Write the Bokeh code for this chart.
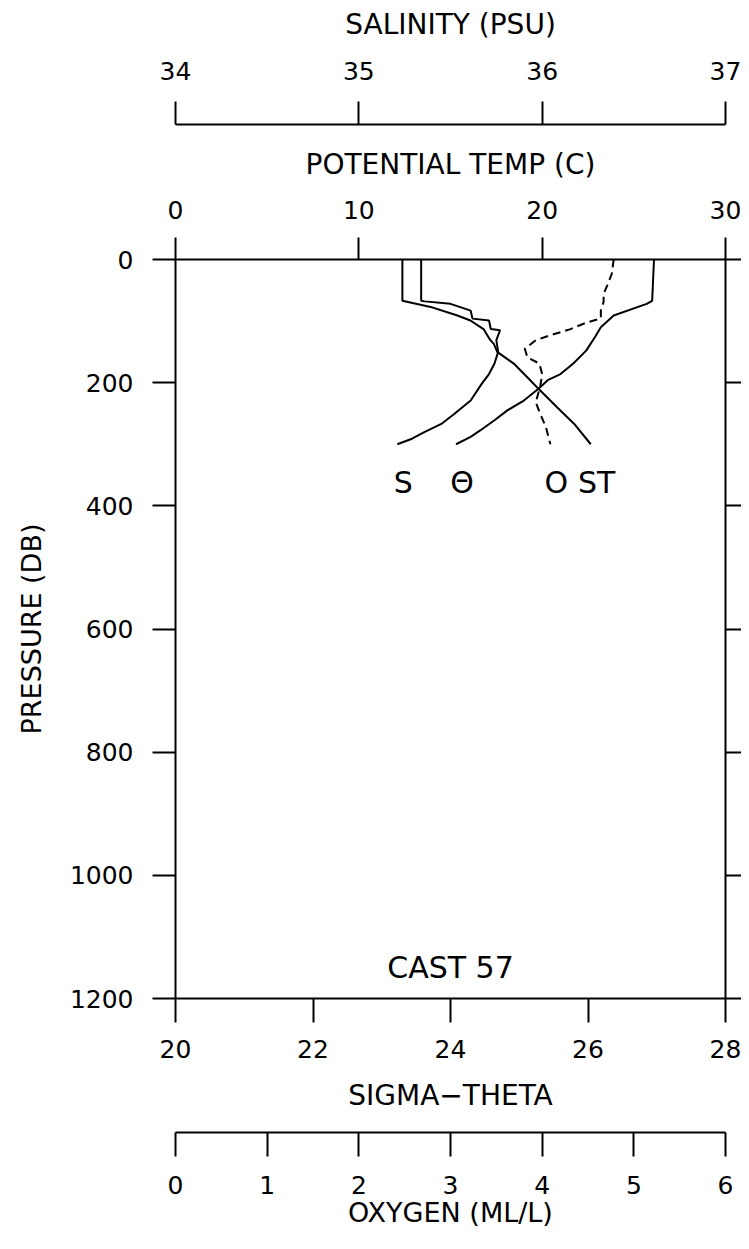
from bokeh.plotting import figure
from bokeh.models import Range1d, LinearAxis, FixedTicker, Label
from bokeh.embed import file_html
from bokeh.resources import INLINE
from bokeh.core.properties import value

# ---------------- data ----------------
pressure_ticks = [0, 200, 400, 600, 800, 1000, 1200]
temp_ticks = [0, 10, 20, 30]
sal_ticks = [34, 35, 36, 37]
sig_ticks = [20, 22, 24, 26, 28]
oxy_ticks = [0, 1, 2, 3, 4, 5, 6]

temp_p = [0, 67, 72, 91, 110, 125, 148, 169, 186, 196, 210, 229, 245, 261, 278, 288, 300]
temp_v = [26.1, 26.0, 25.7, 23.9, 23.2, 22.9, 22.4, 21.7, 21.0, 20.3, 19.8, 19.0, 18.1, 17.4, 16.6, 16.1, 15.3]

sal_p = [0, 67, 68, 72, 83, 96, 99, 113, 115, 131, 150, 169, 186, 202, 229, 251, 267, 280, 291, 300]
sal_v = [35.34, 35.34, 35.36, 35.50, 35.61, 35.62, 35.71, 35.72, 35.77, 35.75, 35.76, 35.74,
         35.71, 35.67, 35.61, 35.52, 35.45, 35.36, 35.29, 35.21]

sig_p = [0, 67, 77, 91, 99, 113, 131, 137, 150, 169, 196, 210, 240, 267, 300]
sig_v = [23.30, 23.30, 23.71, 24.10, 24.29, 24.48, 24.58, 24.63, 24.68, 24.92, 25.16, 25.28,
         25.55, 25.80, 26.04]

oxy_p = [0, 23, 42, 56, 69, 83, 96, 102, 113, 123, 131, 145, 159, 169, 186, 205, 232, 251, 272, 300]
oxy_v = [4.78, 4.76, 4.71, 4.67, 4.67, 4.64, 4.64, 4.49, 4.31, 4.09, 3.93, 3.81, 3.84, 3.97,
         4.00, 3.98, 3.93, 3.98, 4.04, 4.09]

curve_labels = ["S", "\u0398", "O", "ST"]
cast_label = "CAST 57"

# ---------------- layout constants (pixels) ----------------
W, H = 741, 1233
X_L, X_R = 175, 725                  # pixel columns of the axis ends
Y_TOP_PX, Y_BOT_PX = 259, 998        # pixel rows of pressure 0 and 1200
SAL_AXIS_PX, OXY_AXIS_PX = 124, 1132


def full_range(r0, r1):
    per_px = (r1 - r0) / (X_R - X_L)
    return Range1d(r0 - X_L * per_px, r1 + (W - X_R) * per_px)


ppd = (Y_BOT_PX - Y_TOP_PX) / 1200.0
y_top = -Y_TOP_PX / ppd
y_bot = 1200 + (H - Y_BOT_PX) / ppd
sal_loc = y_top + SAL_AXIS_PX / ppd
oxy_loc = y_top + OXY_AXIS_PX / ppd

FONT = "DejaVu Sans"

p = figure(width=W, height=H, x_range=full_range(0, 30), y_range=Range1d(y_bot, y_top),
           output_backend="svg", toolbar_location=None,
           x_axis_location=None, y_axis_location=None,
           min_border_left=0, min_border_right=0, min_border_top=0, min_border_bottom=0)
p.outline_line_color = None
p.background_fill_color = "white"
p.border_fill_color = "white"
for g in p.grid:
    g.visible = False

p.extra_x_ranges = {"sal": full_range(34, 37), "sig": full_range(20, 28), "oxy": full_range(0, 6)}


def style(ax, ticks, out, standoff, title_standoff, lab_size="25px", title_size="28px"):
    ax.ticker = FixedTicker(ticks=ticks, minor_ticks=[])
    ax.major_tick_out = out
    ax.major_tick_in = 0
    ax.minor_tick_out = 0
    ax.minor_tick_in = 0
    ax.axis_line_width = 2
    ax.axis_line_color = "black"
    ax.major_tick_line_width = 2
    ax.major_tick_line_color = "black"
    ax.major_label_text_font = FONT
    ax.major_label_text_font_size = lab_size
    ax.major_label_text_color = "black"
    ax.major_label_standoff = standoff
    ax.axis_label_text_font = FONT
    ax.axis_label_text_font_size = title_size
    ax.axis_label_text_font_style = "normal"
    ax.axis_label_text_color = "black"
    ax.axis_label_standoff = title_standoff


# left pressure axis
left = LinearAxis(bounds=(0, 1200), fixed_location=0, axis_label="PRESSURE (DB)")
style(left, pressure_ticks, 23, 19, 20, title_size="27px")
p.add_layout(left, "left")

# right axis (ticks only)
right = LinearAxis(bounds=(0, 1200), fixed_location=30)
style(right, pressure_ticks, 24, 0, 0)
right.major_label_overrides = {t: "" for t in pressure_ticks}
p.add_layout(right, "right")

# top: potential temperature
tax = LinearAxis(bounds=(0, 30), fixed_location=0, axis_label="POTENTIAL TEMP (C)")
style(tax, temp_ticks, 22, 19, 17)
p.add_layout(tax, "above")

# top: salinity
sax = LinearAxis(x_range_name="sal", bounds=(34, 37), fixed_location=sal_loc,
                 axis_label="SALINITY (PSU)")
style(sax, sal_ticks, 23, 22, 18)
p.add_layout(sax, "above")

# bottom: sigma-theta
gax = LinearAxis(x_range_name="sig", bounds=(20, 28), fixed_location=1200,
                 axis_label="SIGMA\u2212THETA")
style(gax, sig_ticks, 24, 17, 18)
p.add_layout(gax, "below")

# bottom: oxygen
oax = LinearAxis(x_range_name="oxy", bounds=(0, 6), fixed_location=oxy_loc,
                 axis_label="OXYGEN (ML/L)")
style(oax, oxy_ticks, 24, 19, 0, title_size="27px")
p.add_layout(oax, "below")

# curves
p.line(sal_v, sal_p, x_range_name="sal", line_color="black", line_width=2)
p.line(temp_v, temp_p, line_color="black", line_width=2)
p.line(sig_v, sig_p, x_range_name="sig", line_color="black", line_width=2)
p.line(oxy_v, oxy_p, x_range_name="oxy", line_color="black", line_width=2, line_dash="8 5")

# curve end labels
ends = [(sal_v, sal_p, "sal"), (temp_v, temp_p, "default"), (oxy_v, oxy_p, "oxy"), (sig_v, sig_p, "sig")]
for (xs, ys, rn), lab in zip(ends, curve_labels):
    p.text(x=[xs[-1]], y=[ys[-1]], text=[lab], x_range_name=rn,
           x_offset=6, y_offset=38, text_align="center", text_baseline="middle",
           text_font=value(FONT), text_font_size="30px", text_color="black")

p.add_layout(Label(x=15, y=1150, text=cast_label, text_align="center", text_baseline="middle",
                   text_font=FONT, text_font_size="30px", text_color="black"))

open("out.html", "w").write(file_html(p, INLINE))
